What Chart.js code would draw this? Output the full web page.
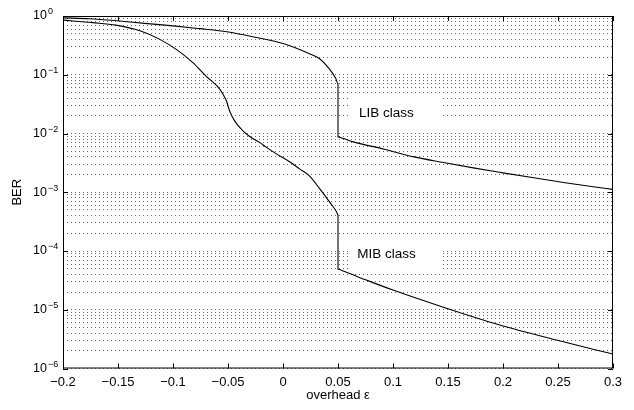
<!DOCTYPE html>
<html>
<head>
<meta charset="utf-8">
<script src="https://cdn.jsdelivr.net/npm/chart.js@4/dist/chart.umd.min.js"></script>
<style>
  html, body { margin: 0; padding: 0; background: #fff; }
  #wrap { width: 634px; height: 410px; }
</style>
</head>
<body>
<div id="wrap"><canvas id="berChart" width="634" height="410"></canvas></div>
<script>
'use strict';

// LIB class curve (overhead, BER)
const libOverhead = [-0.2, -0.176, -0.151, -0.126, -0.1, -0.076, -0.051, -0.024, 0, 0.015, 0.024, 0.033, 0.042, 0.048, 0.05,
  0.05, 0.055, 0.064, 0.092, 0.119, 0.146, 0.173, 0.2, 0.228, 0.255, 0.282, 0.3];
const libBer = [0.93, 0.90, 0.83, 0.75, 0.68, 0.61, 0.54, 0.43, 0.34, 0.27, 0.228, 0.189, 0.127, 0.086, 0.070,
  0.00875, 0.0082, 0.0072, 0.00541, 0.0040, 0.00321, 0.0026, 0.00214, 0.00176, 0.00147, 0.00124, 0.00112];

// MIB class curve
const mibOverhead = [-0.2, -0.173, -0.152, -0.13, -0.112, -0.097, -0.082, -0.07, -0.0575, -0.0515, -0.0485, -0.044,
  -0.0364, -0.03, -0.021, -0.015, -0.006, 0.006, 0.015, 0.024, 0.0333, 0.0424, 0.0485, 0.05,
  0.05, 0.056, 0.0758, 0.1, 0.1485, 0.197, 0.2485, 0.3];
const mibBer = [0.85, 0.77, 0.70, 0.56, 0.40, 0.27, 0.161, 0.095, 0.057, 0.036, 0.0242, 0.0164,
  0.0111, 0.0088, 0.0070, 0.0058, 0.0045, 0.0033, 0.0025, 0.0019, 0.00115, 0.00068, 0.00047, 0.00041,
  0.000049, 0.0000447, 0.000032, 0.0000216, 0.0000106, 0.0000055, 0.00000305, 0.00000176];

const xTicks = [-0.2, -0.15, -0.1, -0.05, 0, 0.05, 0.1, 0.15, 0.2, 0.25, 0.3];
const decadeExponents = [0, -1, -2, -3, -4, -5, -6];

// text annotations: [label, overhead, BER]
const classLabels = [
  ['LIB class', 0.094, 0.0221],
  ['MIB class', 0.094, 0.0000886],
];

const FONT = '"Liberation Sans", Arial, Helvetica, sans-serif';

function toPoints(xs, ys) {
  return xs.map((x, i) => ({ x, y: ys[i] }));
}

function formatOverhead(value) {
  const rounded = Math.round(value * 100) / 100;
  if (rounded === 0) return '0';
  return String(rounded).replace('-', '\u2212');
}

const frameAndLabels = {
  id: 'frameAndLabels',
  beforeDatasetsDraw(chart) {
    const { ctx, scales: { x, y } } = chart;
    ctx.save();
    ctx.font = `13.5px ${FONT}`;
    ctx.textBaseline = 'middle';
    ctx.textAlign = 'center';
    classLabels.forEach(([text, ox, ob]) => {
      const cx = x.getPixelForValue(ox);
      const cy = y.getPixelForValue(ob);
      ctx.fillStyle = '#fff';
      ctx.fillRect(cx - 38, cy - 16, 93, 33);
      ctx.fillStyle = '#000';
      ctx.fillText(text, cx, cy);
    });
    ctx.restore();
  },
  afterDraw(chart) {
    const { ctx, chartArea: area, scales: { x, y } } = chart;
    ctx.save();
    ctx.strokeStyle = '#000';
    ctx.lineWidth = 1;
    ctx.strokeRect(area.left + 0.5, area.top + 0.5, area.right - area.left - 1, area.bottom - area.top - 1);

    // inward tick marks
    ctx.beginPath();
    xTicks.forEach((v) => {
      const px = Math.round(x.getPixelForValue(v)) + 0.5;
      ctx.moveTo(px, area.bottom);
      ctx.lineTo(px, area.bottom - 5);
      ctx.moveTo(px, area.top);
      ctx.lineTo(px, area.top + 5);
    });
    decadeExponents.forEach((e) => {
      const py = Math.round(y.getPixelForValue(Math.pow(10, e))) + 0.5;
      ctx.moveTo(area.left, py);
      ctx.lineTo(area.left + 5, py);
      ctx.moveTo(area.right, py);
      ctx.lineTo(area.right - 5, py);
    });
    ctx.stroke();

    // y tick labels as 10 with a raised exponent
    ctx.fillStyle = '#000';
    ctx.textAlign = 'left';
    ctx.textBaseline = 'middle';
    decadeExponents.forEach((e) => {
      const py = y.getPixelForValue(Math.pow(10, e));
      ctx.font = `12.5px ${FONT}`;
      ctx.fillText('10', 33, py);
      ctx.font = `9px ${FONT}`;
      ctx.fillText(e === 0 ? '0' : '\u2212' + Math.abs(e), 48, py - 4);
    });
    ctx.restore();
  },
};

const lineStyle = {
  borderColor: '#000',
  borderWidth: 1.1,
  pointRadius: 0,
  cubicInterpolationMode: 'monotone',
  fill: false,
};

new Chart(document.getElementById('berChart'), {
  type: 'line',
  data: {
    datasets: [
      { label: 'LIB class', data: toPoints(libOverhead, libBer), ...lineStyle },
      { label: 'MIB class', data: toPoints(mibOverhead, mibBer), ...lineStyle },
    ],
  },
  options: {
    responsive: false,
    animation: false,
    devicePixelRatio: 1,
    layout: { padding: { top: 16, right: 21, left: 0, bottom: 0 } },
    plugins: {
      legend: { display: false },
      tooltip: { enabled: false },
    },
    scales: {
      x: {
        type: 'linear',
        min: -0.2,
        max: 0.3,
        afterBuildTicks: (scale) => { scale.ticks = xTicks.map((value) => ({ value })); },
        afterFit: (scale) => { scale.height = 41.5; },
        ticks: {
          color: '#000',
          font: { family: FONT, size: 13 },
          padding: 6,
          maxRotation: 0,
          autoSkip: false,
          callback: (value) => formatOverhead(value),
        },
        grid: { display: false, drawTicks: false },
        border: { display: false },
        title: {
          display: true,
          text: 'overhead \u03b5',
          color: '#000',
          font: { family: FONT, size: 13 },
          padding: { top: 0, bottom: 7 },
        },
      },
      y: {
        type: 'logarithmic',
        min: 1e-6,
        max: 1,
        afterBuildTicks: (scale) => {
          const ticks = [];
          decadeExponents.forEach((e) => {
            for (let m = 1; m <= 9; m++) {
              const v = m * Math.pow(10, e);
              if (v <= 1 && v >= 1e-6) ticks.push({ value: v });
            }
          });
          scale.ticks = ticks;
        },
        afterFit: (scale) => { scale.width = 63; },
        ticks: { display: false },
        grid: {
          color: '#666',
          lineWidth: 1,
          drawTicks: false,
        },
        border: { display: false, dash: [1, 3] },
        title: {
          display: true,
          text: 'BER',
          color: '#000',
          font: { family: FONT, size: 13 },
          padding: { top: 10, bottom: 0 },
        },
      },
    },
  },
  plugins: [frameAndLabels],
});
</script>
</body>
</html>
